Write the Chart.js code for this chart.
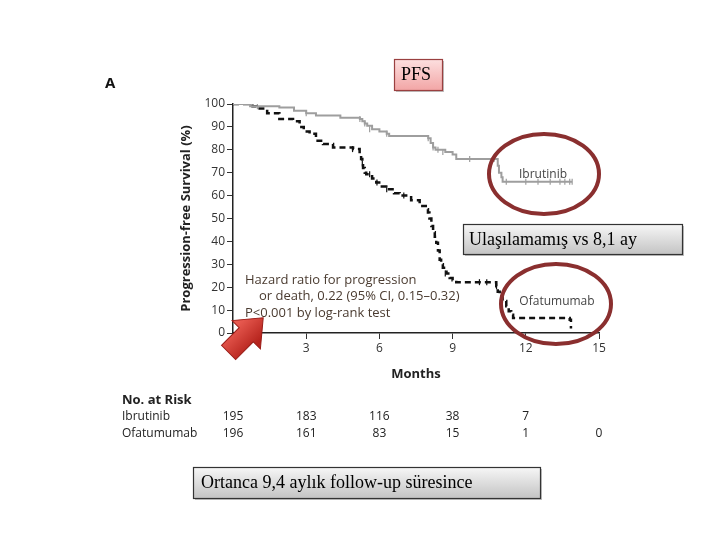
<!DOCTYPE html>
<html>
<head>
<meta charset="utf-8">
<script src="https://cdn.jsdelivr.net/npm/chart.js@4/dist/chart.umd.min.js"></script>
<style>
html,body{margin:0;padding:0;background:#fff;}
#wrap{width:720px;height:540px;position:relative;}
</style>
</head>
<body>
<div id="wrap"><canvas id="c" width="720" height="540"></canvas></div>
<script>
// ---- Data ----
const xTicks = [0, 3, 6, 9, 12, 15];
const yTicks = [0, 10, 20, 30, 40, 50, 60, 70, 80, 90, 100];

const ibrMonths = [0, 0.7, 1.9, 2.5, 3.0, 3.4, 4.4, 5.2, 5.3, 5.4, 5.5, 5.7, 6.0, 6.3, 6.4, 8.0, 8.1, 8.2, 8.3, 8.7, 9.0, 9.15, 10.85, 10.9, 11.0, 11.05, 13.9];
const ibrPFS    = [100, 99, 98.5, 97, 96, 95, 94, 93.5, 92.5, 91.5, 90.5, 89, 88, 87, 86, 85, 83, 81, 80, 79, 78, 76, 73, 70, 68, 66, 66];

const ofaMonths = [0, 0.8, 0.96, 1.4, 1.9, 2.46, 2.73, 2.9, 3.14, 3.4, 3.69, 4.1, 4.92, 5.19, 5.25, 5.3, 5.33, 5.4, 5.46, 5.7, 5.87, 6.1, 6.28, 6.6, 6.83, 7.3, 7.65, 7.9, 7.99, 8.05, 8.13, 8.2, 8.27, 8.33, 8.4, 8.47, 8.53, 8.6, 8.75, 8.88, 9.0, 9.15, 10.79, 10.85, 10.93, 11.05, 11.2, 11.3, 11.4, 11.48, 13.8, 13.85];
const ofaPFS    = [100, 99, 98, 96, 93.5, 92.5, 90, 88, 87, 84, 82.5, 81, 80.3, 78, 76, 74, 72, 70, 69.3, 67.5, 65.7, 64, 62.8, 61, 60, 58, 55.5, 54, 52.6, 50, 46.7, 44, 42, 39.4, 36, 32, 30, 28.5, 26, 24, 23, 22.2, 20.4, 18, 16, 14, 11.7, 9.5, 8, 6.6, 5.8, 2];

const ibrCensorMonths = [1.0, 3.0, 5.2, 5.4, 5.6, 6.3, 8.0, 8.2, 8.4, 8.6, 9.7, 10.7, 11.2, 12.0, 12.5, 13.0, 13.4, 13.6, 13.8, 13.9];
const ibrCensorPFS    = [99, 96, 93.5, 91.5, 89, 87, 85, 81, 80, 79, 76, 76, 66, 66, 66, 66, 66, 66, 66, 66];
const ofaCensorMonths = [4.9, 5.3, 5.6, 5.9, 6.3, 7.0, 8.7, 10.1, 10.4, 10.8];
const ofaCensorPFS    = [80.3, 74, 69.3, 65.7, 62.8, 60, 26, 22.2, 22.2, 20.4];

const riskLabels = ["Ibrutinib", "Ofatumumab"];
const riskIbr = ["195", "183", "116", "38", "7", ""];
const riskOfa = ["196", "161", "83", "15", "1", "0"];

const toXY = (xs, ys) => xs.map((x, i) => ({x: x, y: ys[i]}));

const annot = {
  id: 'annot',
  afterDraw(chart) {
    const ctx = chart.ctx;
    const xs = chart.scales.x, ys = chart.scales.y;
    ctx.save();

    // Panel letter
    ctx.fillStyle = '#111';
    ctx.font = 'bold 15px "Open Sans", sans-serif';
    ctx.textAlign = 'left'; ctx.textBaseline = 'alphabetic';
    ctx.fillText('A', 105, 88);

    // Y axis title
    ctx.save();
    ctx.translate(190, (ys.top + ys.bottom) / 2);
    ctx.rotate(-Math.PI / 2);
    ctx.textAlign = 'center';
    ctx.font = 'bold 13px "Open Sans", sans-serif';
    ctx.fillStyle = '#222';
    ctx.fillText('Progression-free Survival (%)', 0, 0);
    ctx.restore();

    // X axis title
    ctx.textAlign = 'center';
    ctx.font = 'bold 13px "Open Sans", sans-serif';
    ctx.fillStyle = '#222';
    ctx.fillText('Months', 416, 378);

    // Hazard text
    ctx.textAlign = 'left';
    ctx.font = '13px "Open Sans", sans-serif';
    ctx.fillStyle = '#4a3b30';
    ctx.fillText('Hazard ratio for progression', 245, 284);
    ctx.fillText('or death, 0.22 (95% CI, 0.15\u20130.32)', 259, 300);
    ctx.fillText('P<0.001 by log-rank test', 245, 317);

    // Series labels
    ctx.textAlign = 'center';
    ctx.font = '12px "Open Sans", sans-serif';
    ctx.fillStyle = '#444';
    ctx.fillText('Ibrutinib', 543, 178);
    ctx.fillText('Ofatumumab', 557, 305);

    // Ellipses
    ctx.strokeStyle = '#8a2f2f';
    ctx.lineWidth = 4;
    ctx.beginPath(); ctx.ellipse(544, 174, 55, 40, 0, 0, Math.PI * 2); ctx.stroke();
    ctx.beginPath(); ctx.ellipse(556, 304, 55, 40, 0, 0, Math.PI * 2); ctx.stroke();

    // Boxes
    function box(x, y, w, h, c1, c2, border, text, tx, size) {
      const g = ctx.createLinearGradient(0, y, 0, y + h);
      g.addColorStop(0, c1); g.addColorStop(1, c2);
      ctx.fillStyle = 'rgba(0,0,0,0.25)';
      ctx.fillRect(x + 2, y + 2, w, h);
      ctx.fillStyle = g;
      ctx.fillRect(x, y, w, h);
      ctx.strokeStyle = border; ctx.lineWidth = 1.2;
      ctx.strokeRect(x + 0.5, y + 0.5, w, h);
      ctx.fillStyle = '#000';
      ctx.font = size + 'px "Liberation Serif", serif';
      ctx.textAlign = 'left'; ctx.textBaseline = 'middle';
      ctx.fillText(text, tx, y + h / 2 + 1);
      ctx.textBaseline = 'alphabetic';
    }
    box(394, 59, 48, 31, '#fde0e0', '#f2a6a6', '#9a4040', 'PFS', 401, 18);
    box(463, 224, 219, 30, '#f7f7f7', '#c4c4c4', '#333', 'Ulaşılamamış vs 8,1 ay', 469, 18);
    box(193, 467, 347, 31, '#f7f7f7', '#c4c4c4', '#333', 'Ortanca 9,4 aylık follow-up süresince', 201, 18);

    // Number at risk table
    ctx.fillStyle = '#222';
    ctx.textAlign = 'left';
    ctx.font = 'bold 13px "Open Sans", sans-serif';
    ctx.fillText('No. at Risk', 122, 404);
    ctx.font = '12px "Open Sans", sans-serif';
    ctx.fillText(riskLabels[0], 122, 420);
    ctx.fillText(riskLabels[1], 122, 437);
    ctx.textAlign = 'center';
    xTicks.forEach((t, i) => {
      const px = xs.getPixelForValue(t);
      ctx.fillText(riskIbr[i], px, 420);
      ctx.fillText(riskOfa[i], px, 437);
    });

    // Red arrow
    ctx.save();
    ctx.translate(242, 339);
    ctx.rotate(-Math.PI / 4);
    const ag = ctx.createLinearGradient(0, -14, 0, 14);
    ag.addColorStop(0, '#e85a50'); ag.addColorStop(1, '#b5231c');
    ctx.fillStyle = ag;
    ctx.beginPath();
    ctx.moveTo(-19, -10); ctx.lineTo(6, -10); ctx.lineTo(6, -20);
    ctx.lineTo(30, 0); ctx.lineTo(6, 20); ctx.lineTo(6, 10); ctx.lineTo(-19, 10);
    ctx.closePath(); ctx.fill();
    ctx.strokeStyle = '#9a1d18'; ctx.lineWidth = 1; ctx.stroke();
    ctx.restore();

    ctx.restore();
  }
};

new Chart(document.getElementById('c'), {
  type: 'line',
  data: {
    datasets: [
      { label: 'Ibrutinib', data: toXY(ibrMonths, ibrPFS), stepped: true, borderColor: '#9e9e9e', borderWidth: 2, pointRadius: 0, fill: false },
      { label: 'Ofatumumab', data: toXY(ofaMonths, ofaPFS), stepped: true, borderColor: '#111', borderWidth: 2.5, borderDash: [6, 4], pointRadius: 0, fill: false },
      { label: 'IbrCens', type: 'scatter', data: toXY(ibrCensorMonths, ibrCensorPFS), pointStyle: 'line', rotation: 90, radius: 3, borderColor: '#9e9e9e', borderWidth: 1.2, showLine: false },
      { label: 'OfaCens', type: 'scatter', data: toXY(ofaCensorMonths, ofaCensorPFS), pointStyle: 'line', rotation: 90, radius: 3, borderColor: '#111', borderWidth: 1.2, showLine: false }
    ]
  },
  options: {
    responsive: false,
    animation: false,
    layout: { padding: { left: 193, right: 121, top: 104, bottom: 177 } },
    plugins: { legend: { display: false }, tooltip: { enabled: false } },
    scales: {
      x: {
        type: 'linear', min: 0, max: 15,
        afterBuildTicks: s => { s.ticks = xTicks.map(v => ({value: v})); },
        afterFit: s => { s.height = 30; },
        grid: { drawOnChartArea: false, tickLength: 6, color: '#333' },
        border: { color: '#222', width: 1.5 },
        ticks: { color: '#333', font: { family: '"Open Sans", sans-serif', size: 12 }, padding: 2 }
      },
      y: {
        type: 'linear', min: 0, max: 100,
        afterBuildTicks: s => { s.ticks = yTicks.map(v => ({value: v})); },
        afterFit: s => { s.width = 40; },
        grid: { drawOnChartArea: false, tickLength: 6, color: '#333' },
        border: { color: '#222', width: 1.5 },
        ticks: { color: '#333', font: { family: '"Open Sans", sans-serif', size: 12 }, padding: 2 }
      }
    }
  },
  plugins: [annot]
});
</script>
</body>
</html>
